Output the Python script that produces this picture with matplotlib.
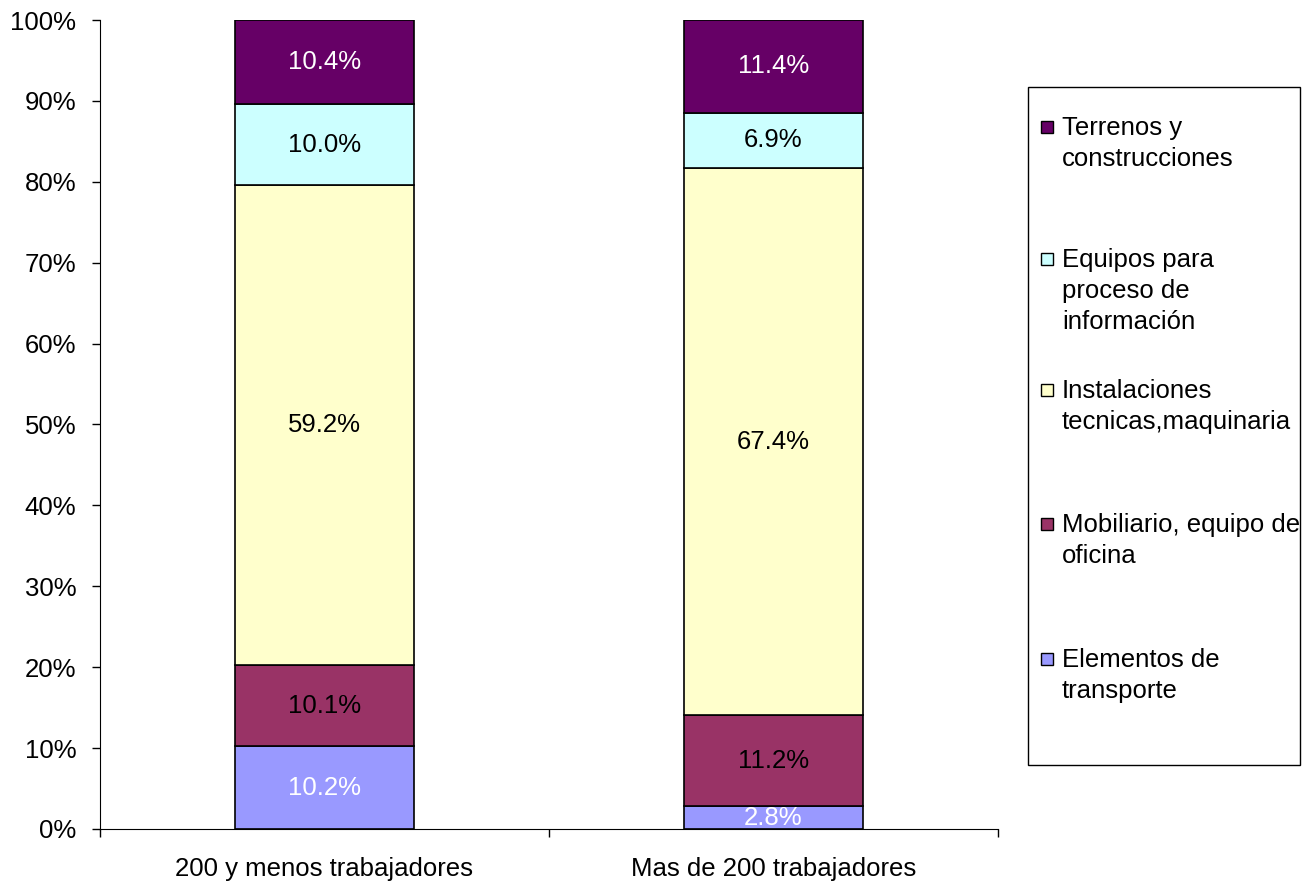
import matplotlib
matplotlib.use("Agg")
import matplotlib.pyplot as plt
import matplotlib.ticker as ticker
from matplotlib.patches import Rectangle
import numpy as np

plt.rcParams["font.family"] = ["Liberation Sans", "DejaVu Sans"]

categories = ["200 y menos trabajadores", "Mas de 200 trabajadores"]
series = ["Elementos de transporte", "Mobiliario, equipo de oficina",
          "Instalaciones tecnicas,maquinaria", "Equipos para proceso de información",
          "Terrenos y construcciones"]
legend_labels = ["Elementos de\ntransporte", "Mobiliario, equipo de\noficina",
                 "Instalaciones\ntecnicas,maquinaria", "Equipos para\nproceso de\ninformación",
                 "Terrenos y\nconstrucciones"]
values = {
    "Elementos de transporte": [10.2, 2.8],
    "Mobiliario, equipo de oficina": [10.1, 11.2],
    "Instalaciones tecnicas,maquinaria": [59.2, 67.4],
    "Equipos para proceso de información": [10.0, 6.9],
    "Terrenos y construcciones": [10.4, 11.4],
}
colors = ["#9999FF", "#993366", "#FFFFCC", "#CCFFFF", "#660066"]
label_colors = ["white", "black", "black", "black", "white"]

FS = 18.5
W, H = 1306, 882
fig = plt.figure(figsize=(W / 100, H / 100), dpi=100)
ax = fig.add_axes([100 / W, (H - 829) / H, 898 / W, 809 / H])

x = np.arange(len(categories))
totals = np.sum([values[s] for s in series], axis=0)
bottom = np.zeros(len(categories))
for s, c, lc in zip(series, colors, label_colors):
    v = np.array(values[s])
    frac = v / totals
    ax.bar(x, frac, 0.4, bottom=bottom, color=c, edgecolor="black", linewidth=1.2)
    for xi, b, f, raw in zip(x, bottom, frac, v):
        ax.text(xi, b + f / 2, f"{raw:.1f}%", ha="center", va="center",
                fontsize=FS, color=lc)
    bottom += frac

ax.set_xlim(-0.5, 1.5)
ax.set_ylim(0, 1)
ax.yaxis.set_major_locator(ticker.MultipleLocator(0.1))
ax.yaxis.set_major_formatter(ticker.FuncFormatter(lambda v, p: f"{v * 100:.0f}%"))
ax.set_xticks(x)
ax.set_xticklabels(categories)
ax.set_xticks([-0.5, 0.5, 1.5], minor=True)
ax.tick_params(axis="x", which="major", length=0, pad=20, labelsize=FS)
ax.tick_params(axis="x", which="minor", length=6, width=1)
ax.tick_params(axis="y", length=6, width=1, labelsize=FS, pad=11)
for side in ["top", "right"]:
    ax.spines[side].set_visible(False)

# legend drawn by hand so the swatches sit on the first line
fig.patches.append(Rectangle((1028 / W, (H - 765) / H), 272 / W, 678 / H,
                             transform=fig.transFigure, facecolor="white",
                             edgecolor="black", linewidth=1))
rows_y = [659, 524, 390, 259, 127]
for lab, c, yy in zip(legend_labels, colors, rows_y):
    fig.patches.append(Rectangle((1041 / W, (H - yy - 6) / H), 12 / W, 12 / H,
                                 transform=fig.transFigure, facecolor=c,
                                 edgecolor="black", linewidth=1))
    fig.text(1062 / W, (H - yy + 11) / H, lab, ha="left", va="top",
             fontsize=FS, linespacing=1.38)

fig.savefig("out.png", dpi=100)
